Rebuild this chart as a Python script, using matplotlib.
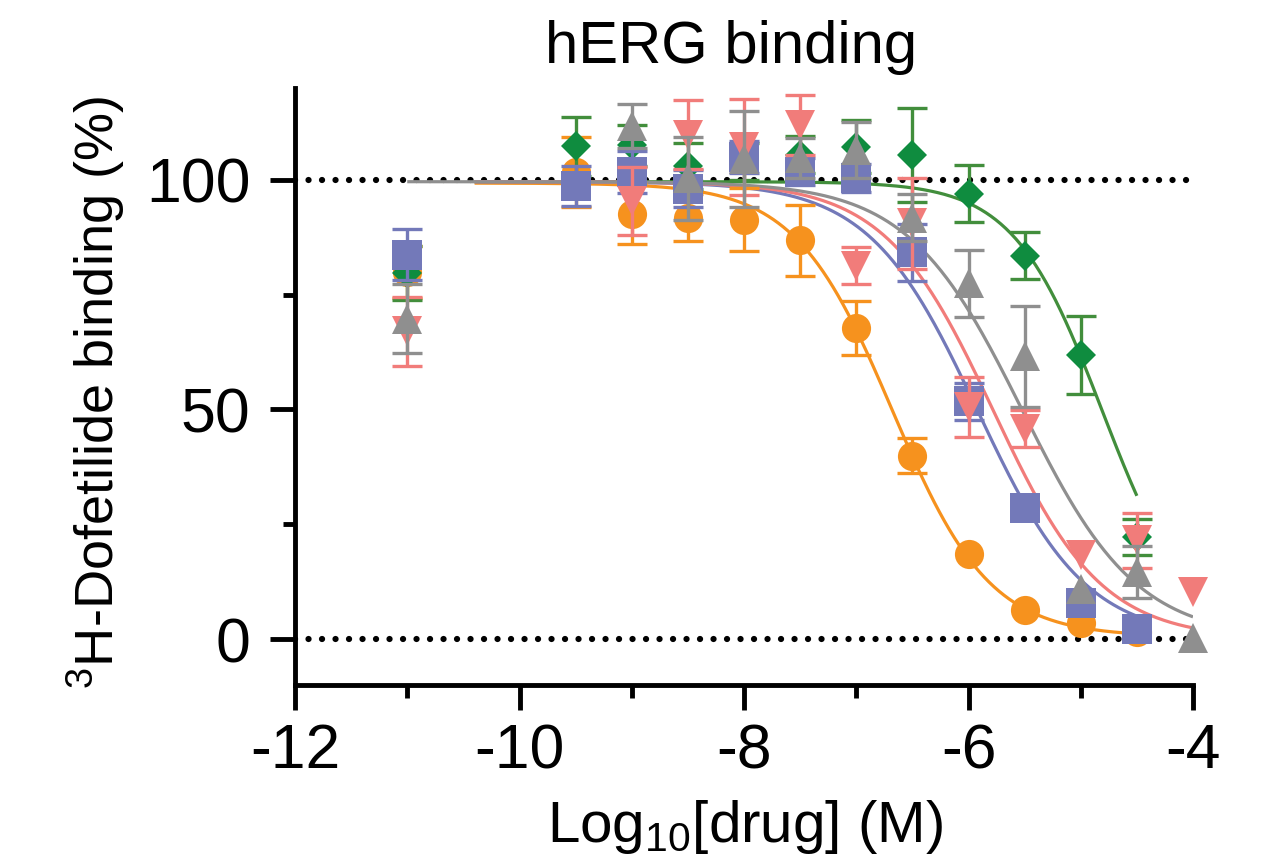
import numpy as np
import matplotlib
matplotlib.use("Agg")
import matplotlib.pyplot as plt

plt.rcParams['font.family'] = ['Liberation Sans', 'DejaVu Sans']
plt.rcParams['mathtext.fontset'] = 'custom'
plt.rcParams['mathtext.rm'] = 'Liberation Sans'
plt.rcParams['mathtext.it'] = 'Liberation Sans:italic'

# ---- measured binding data (log10 molar concentration, % binding, SEM) ----
orange_x = [-11, -9.5, -9, -8.5, -8, -7.5, -7, -6.5, -6, -5.5, -5, -4.5]
orange_y = [80, 101.7, 92.5, 91.8, 91.3, 86.8, 67.7, 39.9, 18.6, 6.3, 3.5, 1.5]
orange_e = [5.7, 7.7, 6.5, 5.2, 6.9, 7.8, 5.9, 3.8, 0, 0, 0, 0]

green_x = [-11, -9.5, -9, -8.5, -8, -7.5, -7, -6.5, -6, -5.5, -5, -4.5]
green_y = [79.7, 107.3, 107.5, 103, 104, 105.5, 107.2, 105.4, 97, 83.5, 61.8, 22.2]
green_e = [5.8, 6.4, 4.5, 5, 4, 4, 5.8, 10.3, 6.2, 5.2, 8.5, 4]

blue_x = [-11, -9.5, -9, -8.5, -8, -7.5, -7, -6.5, -6, -5.5, -5, -4.5]
blue_y = [83.7, 98.7, 101.7, 98.1, 105, 101.8, 100.4, 84.2, 51.8, 28.6, 7.8, 2.2]
blue_e = [5.5, 4.3, 4.6, 4, 3.5, 3, 3, 6.2, 4, 0, 0, 0]

pink_x = [-11, -9, -8.5, -8, -7.5, -7, -6.5, -6, -5.5, -5, -4.5, -4]
pink_y = [67, 95.4, 109.8, 107.2, 112, 81.3, 90.5, 50.5, 45.8, 18.2, 21.5, 10.2]
pink_e = [7.5, 7.4, 7.5, 10.5, 6.5, 4, 10, 6.5, 4, 0, 6, 0]

gray_x = [-11, -9, -8.5, -8, -7.5, -7, -6.5, -6, -5.5, -5, -4.5, -4]
gray_y = [69.8, 111.7, 100.3, 104.5, 104.8, 106.6, 91.8, 77.5, 61.6, 10.9, 14.6, 0.2]
gray_e = [7.5, 4.8, 9, 10.5, 4.3, 6.1, 5.2, 7.3, 11, 0, 5.7, 0]

# ---- four-parameter logistic fits: top, bottom, logIC50, Hill slope, x-range ----
orange_fit = (99.3, 0.5, -6.68, 1.0, (-10.4, -4.5))
green_fit = (99.6, 0.0, -4.81, 1.1, (-10.4, -4.5))
blue_fit = (99.6, 0.0, -5.92, 0.9, (-10.4, -4.5))
pink_fit = (99.6, 0.0, -5.78, 0.9, (-10.4, -4.0))
gray_fit = (99.6, 0.0, -5.52, 0.85, (-11.0, -4.0))

x_ticks = [-12, -10, -8, -6, -4]
y_ticks = [0, 50, 100]

ORANGE = '#F6921E'
GREEN_M = '#0F8C3F'
GREEN_L = '#428E3C'
BLUE = '#7379B9'
PINK = '#F17C7A'
GRAY = '#8F8F8F'

series = [
    (orange_x, orange_y, orange_e, orange_fit, 'o', 21, ORANGE, ORANGE, ORANGE),
    (green_x, green_y, green_e, green_fit, 'D', 15, GREEN_M, GREEN_L, GREEN_L),
    (blue_x, blue_y, blue_e, blue_fit, 's', 21, BLUE, BLUE, BLUE),
    (pink_x, pink_y, pink_e, pink_fit, 'v', 21, PINK, PINK, PINK),
    (gray_x, gray_y, gray_e, gray_fit, '^', 21, GRAY, GRAY, GRAY),
]

fig = plt.figure(figsize=(12.66, 8.63), dpi=100)
ax = fig.add_axes([295 / 1266, 1 - 685 / 863, (1193 - 295) / 1266, (685 - 88) / 863])

# reference lines at 0 % and 100 %
for lvl in (0, 100):
    ax.axhline(lvl, color='black', lw=4.5, linestyle=(0, (0.01, 2.15)),
               dash_capstyle='round', zorder=1)

# fitted curves
for xs, ys, es, fit, mk, ms, mcol, ecol, lcol in series:
    top, bottom, logic50, hill, (x0, x1) = fit
    xx = np.linspace(x0, x1, 400)
    yy = bottom + (top - bottom) / (1 + 10 ** (hill * (xx - logic50)))
    ax.plot(xx, yy, color=lcol, lw=2.3, zorder=2, solid_capstyle='butt')

# points with error bars
for i, (xs, ys, es, fit, mk, ms, mcol, ecol, lcol) in enumerate(series):
    z = 3 + i
    xs = np.asarray(xs, float)
    ys = np.asarray(ys, float)
    es = np.asarray(es, float)
    m = es > 0
    ax.errorbar(xs[m], ys[m], yerr=es[m], fmt='none', ecolor=ecol,
                elinewidth=2.4, capsize=11, capthick=2.4, zorder=z, clip_on=False)
    ax.plot(xs, ys, linestyle='none', marker=mk, markersize=ms, color=mcol,
            markeredgewidth=0, zorder=z + 0.5, clip_on=False)

ax.set_xlim(-12, -4)
ax.set_ylim(-10, 120)
ax.set_xticks(x_ticks)
ax.set_xticklabels([str(t) for t in x_ticks])
ax.set_xticks([-11, -9, -7, -5], minor=True)
ax.set_yticks(y_ticks)
ax.set_yticklabels([str(t) for t in y_ticks])
ax.set_yticks([25, 75], minor=True)

for side in ('top', 'right'):
    ax.spines[side].set_visible(False)
for side in ('left', 'bottom'):
    ax.spines[side].set_linewidth(3.5)
    ax.spines[side].set_capstyle('projecting')

ax.tick_params(which='major', length=18, width=3.5, labelsize=45, color='black')
ax.tick_params(which='minor', length=9, width=3.5, color='black')
ax.tick_params(axis='y', which='major', pad=14)
ax.tick_params(axis='x', which='major', pad=9)

fig.text(731 / 1266, 1 - 63 / 863, 'hERG binding', ha='center', va='baseline', fontsize=43)
fig.text(745 / 1266, 1 - 842 / 863, r'Log$_{\rm 10}$[drug] (M)', ha='center', va='baseline',
         fontsize=42)
fig.text(96 / 1266, 1 - 392 / 863, r'$^{\rm 3}$H-Dofetilide binding (%)', ha='center',
         va='center', rotation=90, fontsize=39)

fig.savefig('out.png', dpi=100)
